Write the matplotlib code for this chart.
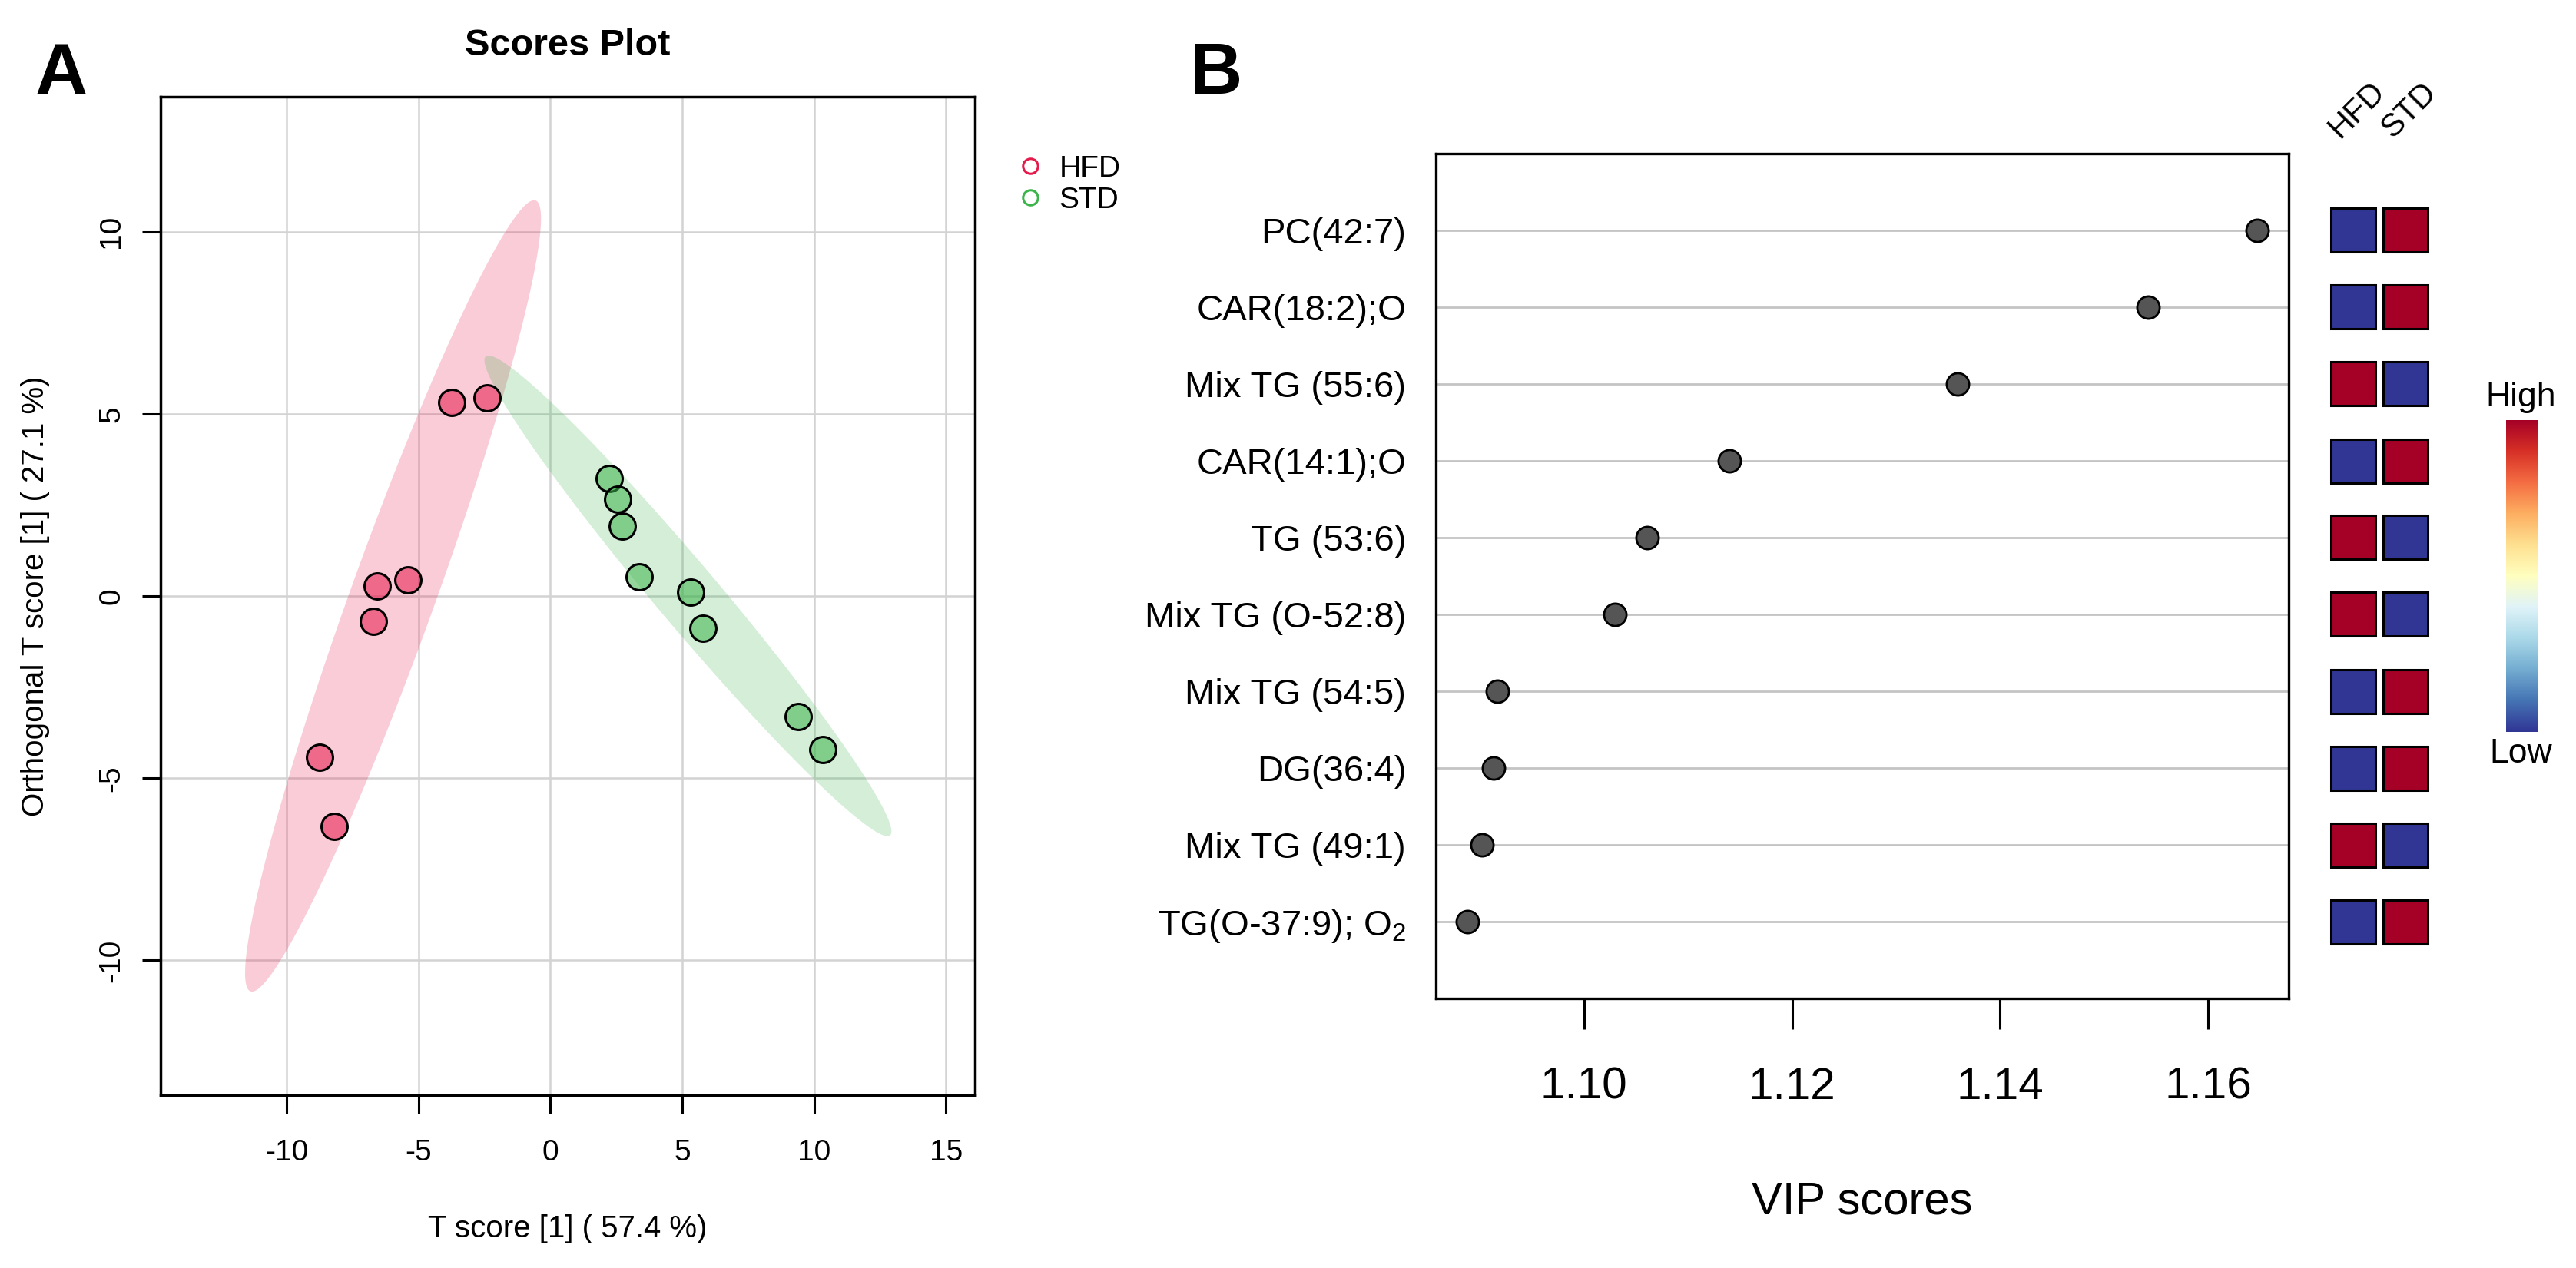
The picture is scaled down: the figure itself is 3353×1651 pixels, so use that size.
import numpy as np
import matplotlib
matplotlib.use("Agg")
import matplotlib.pyplot as plt
from matplotlib.colors import to_rgba
from matplotlib.lines import Line2D
from matplotlib.patches import Rectangle

plt.rcParams['font.family'] = 'Liberation Sans'
plt.rcParams['mathtext.fontset'] = 'custom'
plt.rcParams['mathtext.rm'] = 'Liberation Sans'
plt.rcParams['axes.unicode_minus'] = False

# --- panel A: OPLS-DA scores ---
groups = ['HFD', 'STD']
hfd_t = [-3.74, -2.41, -6.56, -5.39, -6.71, -8.74, -8.20]
hfd_o = [5.32, 5.43, 0.27, 0.44, -0.69, -4.43, -6.32]
std_t = [2.23, 2.55, 2.74, 3.37, 5.33, 5.80, 9.41, 10.32]
std_o = [3.22, 2.66, 1.91, 0.53, 0.11, -0.89, -3.30, -4.21]

# --- panel B: VIP scores ---
features = ['PC(42:7)', 'CAR(18:2);O', 'Mix TG (55:6)', 'CAR(14:1);O', 'TG (53:6)',
            'Mix TG (O-52:8)', 'Mix TG (54:5)', 'DG(36:4)', 'Mix TG (49:1)',
            r'TG(O-37:9); $\mathrm{O}_2$']
vip = [1.1647, 1.1542, 1.1359, 1.1140, 1.1061, 1.1030, 1.0917, 1.0913, 1.0902, 1.0888]
# relative level in each group (1 = high, 0 = low)
hfd_level = [0, 0, 1, 0, 1, 1, 0, 0, 1, 0]
std_level = [1, 1, 0, 1, 0, 0, 1, 1, 0, 1]

hfd_col = '#E6194B'
std_col = '#3CB44B'


def conf_ellipse(x, y, q=5.991, n=300):
    # 95% confidence ellipse from the group covariance
    x = np.asarray(x)
    y = np.asarray(y)
    L = np.linalg.cholesky(np.cov(x, y))
    t = np.linspace(0, 2 * np.pi, n)
    pts = L @ (np.vstack([np.cos(t), np.sin(t)]) * np.sqrt(q))
    return x.mean() + pts[0], y.mean() + pts[1]


W, H = 3353, 1651
fig = plt.figure(figsize=(W / 100, H / 100), dpi=100)


def box(l, t, r, b):
    return [l / W, 1 - b / H, (r - l) / W, (b - t) / H]


# ---------------- panel A ----------------
ax_a = fig.add_axes(box(209, 126, 1269, 1426))
for tt, oo, col in [(hfd_t, hfd_o, hfd_col), (std_t, std_o, std_col)]:
    ex, ey = conf_ellipse(tt, oo)
    ax_a.fill(ex, ey, color=col, alpha=0.22, lw=0, zorder=1)
for tt, oo, col in [(hfd_t, hfd_o, hfd_col), (std_t, std_o, std_col)]:
    ax_a.scatter(tt, oo, s=595, facecolors=[to_rgba(col, 0.55)], edgecolors='black',
                 linewidths=2.2, zorder=3)

ax_a.set_xlim(-14.78, 16.1)
ax_a.set_ylim(-13.7, 13.7)
ax_a.set_xticks([-10, -5, 0, 5, 10, 15])
ax_a.set_yticks([-10, -5, 0, 5, 10])
ax_a.grid(True, color='#D3D3D3', lw=1.8, zorder=0)
ax_a.set_axisbelow(True)
ax_a.tick_params(axis='x', labelsize=28, length=17, width=2.2, pad=24)
ax_a.tick_params(axis='y', labelsize=28, length=17, width=2.2, pad=16, labelrotation=90)
for lbl in ax_a.get_yticklabels():
    lbl.set_va('center')
for s in ax_a.spines.values():
    s.set_linewidth(2.5)

ax_a.set_xlabel('T score [1] ( 57.4 %)', fontsize=29)
ax_a.xaxis.set_label_coords(0.5, -0.1338)
ax_a.xaxis.label.set_va('center')
ax_a.set_ylabel('Orthogonal T score [1] ( 27.1 %)', fontsize=29)
ax_a.yaxis.set_label_coords(-0.1538, 0.5)
ax_a.yaxis.label.set_va('center')
ax_a.set_title('Scores Plot', fontsize=35, fontweight='bold', pad=39)

handles = [Line2D([], [], marker='o', ls='none', markerfacecolor='none',
                  markeredgecolor=c, markersize=14, markeredgewidth=2.2)
           for c in (hfd_col, std_col)]
ax_a.legend(handles, groups, loc='upper left', bbox_to_anchor=(1322 / W, 1 - 202 / H),
            bbox_transform=fig.transFigure, frameon=False, fontsize=28,
            handlelength=1, handletextpad=0.45, borderpad=0, borderaxespad=0,
            labelspacing=0.12)

# ---------------- panel B ----------------
ax_b = fig.add_axes(box(1869, 200, 2979, 1300))
rows = np.arange(1, len(features) + 1)
for r in rows:
    ax_b.axhline(r, color='#C4C4C4', lw=2.0, zorder=1)
ax_b.scatter(vip, rows, s=441, color='#555555', edgecolors='black', linewidths=2.0, zorder=3)
span = max(vip) - min(vip)
ax_b.set_xlim(min(vip) - 0.04 * span, max(vip) + 0.04 * span)
ax_b.set_ylim(len(features) + 1, 0)
ax_b.set_yticks(rows)
ax_b.set_yticklabels(features)
ax_b.set_xticks([1.10, 1.12, 1.14, 1.16])
ax_b.set_xticklabels(['%.2f' % v for v in [1.10, 1.12, 1.14, 1.16]])
ax_b.tick_params(axis='y', length=0, labelsize=34, pad=28)
ax_b.tick_params(axis='x', labelsize=42, length=29, width=2.2, pad=35)
for s in ax_b.spines.values():
    s.set_linewidth(2.4)
ax_b.set_xlabel('VIP scores', fontsize=43)
ax_b.xaxis.set_label_coords(0.5, -0.2409)
ax_b.xaxis.label.set_va('center')

# mini heatmap of group levels
cmap = plt.get_cmap('RdYlBu_r')
ax_h = fig.add_axes(box(3029, 200, 3165, 1300))
ax_h.set_xlim(0, 2)
ax_h.set_ylim(len(features) + 1, 0)
ax_h.axis('off')
for j, levels in enumerate([hfd_level, std_level]):
    for r, v in zip(rows, levels):
        ax_h.add_patch(Rectangle((j + 0.5 - 0.42, r - 0.285), 0.84, 0.57,
                                 facecolor=cmap(float(v)), edgecolor='black', lw=2.2))
for j, g in enumerate(groups):
    ax_h.text(j + 0.25, -0.19, g, rotation=45, rotation_mode='anchor',
              ha='left', va='baseline', fontsize=30, clip_on=False)

# colour key
ax_c = fig.add_axes(box(3262, 547, 3304, 953))
ax_c.imshow(np.linspace(0, 1, 256).reshape(-1, 1), cmap=cmap, aspect='auto', origin='lower')
ax_c.axis('off')
fig.text(3281 / W, 1 - 518 / H, 'High', ha='center', va='center', fontsize=32)
fig.text(3281 / W, 1 - 981 / H, 'Low', ha='center', va='center', fontsize=32)

# panel letters
fig.text(80 / W, 1 - 99 / H, 'A', ha='center', va='center', fontsize=68, fontweight='bold')
fig.text(1583 / W, 1 - 97 / H, 'B', ha='center', va='center', fontsize=68, fontweight='bold')

fig.savefig('out.png', dpi=100)
